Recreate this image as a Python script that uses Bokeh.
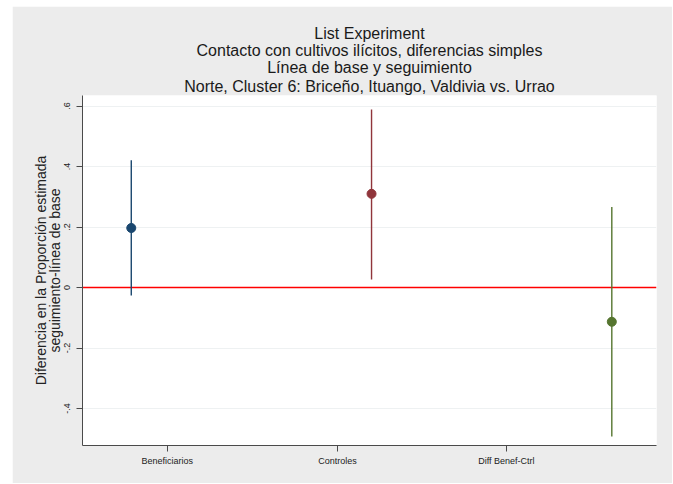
from bokeh.plotting import figure
from bokeh.models import Range1d, FixedTicker, Title, Spacer
from bokeh.layouts import row, column
from bokeh.embed import file_html
from bokeh.resources import INLINE

# ---- data ----
categories = ["Beneficiarios", "Controles", "Diff Benef-Ctrl"]
x_pos = [1, 2, 3]
estimates = [0.197, 0.310, -0.113]
ci_low = [-0.026, 0.027, -0.492]
ci_high = [0.421, 0.589, 0.266]
colors = ["#1a476f", "#90353b", "#55752f"]
cat_ticks = [1.15, 1.858, 2.561]
y_ticks = [-0.4, -0.2, 0.0, 0.2, 0.4, 0.6]
y_tick_labels = ["-.4", "-.2", "0", ".2", ".4", ".6"]
title_lines = [
    "List Experiment",
    "Contacto con cultivos ilícitos, diferencias simples",
    "Línea de base y seguimiento",
    "Norte, Cluster 6: Briceño, Ituango, Valdivia vs. Urrao",
]
y_label = "Diferencia en la Proporción estimada\nseguimiento-línea de base"

FONT = "Liberation Sans"
BG = "#ececec"

Y0, Y1 = -0.522, 0.635
X0, X1 = 0.797, 3.186

p = figure(width=660, height=477, output_backend="svg", toolbar_location=None,
           x_range=Range1d(X0, X1), y_range=Range1d(Y0, Y1),
           min_border_left=70, min_border_right=16, min_border_top=89, min_border_bottom=38)
p.background_fill_color = "white"
p.border_fill_color = BG
p.outline_line_color = None
p.title = None

# grid
p.xgrid.grid_line_color = None
p.ygrid.grid_line_color = "#eef1f2"
p.ygrid.grid_line_width = 1
p.ygrid.ticker = FixedTicker(ticks=y_ticks)

# zero line
p.line(x=[X0, X1], y=[0, 0], line_color="#ff0000", line_width=1.5)

# CIs and points
p.segment(x0=x_pos, y0=ci_low, x1=x_pos, y1=ci_high, line_color=colors, line_width=1.4)
p.scatter(x=x_pos, y=estimates, size=9, fill_color=colors, line_color=colors, marker="circle")

# axes
AX = "#4a4a4a"
p.xaxis.ticker = FixedTicker(ticks=cat_ticks)
p.xaxis.major_label_overrides = {t: c for t, c in zip(cat_ticks, categories)}
p.yaxis.ticker = FixedTicker(ticks=y_ticks)
p.yaxis.major_label_overrides = {t: l for t, l in zip(y_ticks, y_tick_labels)}
p.yaxis.major_label_orientation = "vertical"
for ax in (p.xaxis, p.yaxis):
    ax.axis_line_color = AX
    ax.axis_line_width = 1
    ax.major_tick_line_color = AX
    ax.minor_tick_line_color = None
    ax.major_tick_out = 6
    ax.major_tick_in = 0
    ax.major_label_text_font = FONT
    ax.major_label_text_font_size = "9px"
    ax.major_label_text_color = "#222222"
p.xaxis.major_label_standoff = 4
p.yaxis.major_label_standoff = 6
p.yaxis.axis_label = y_label
p.yaxis.axis_label_text_font = FONT
p.yaxis.axis_label_text_font_size = "14px"
p.yaxis.axis_label_text_font_style = "normal"
p.yaxis.axis_label_text_color = "#222222"
p.yaxis.axis_label_text_line_height = 0.85
p.yaxis.axis_label_standoff = -1

# titles: nearest to the frame first
for i, line in enumerate(reversed(title_lines)):
    p.add_layout(Title(text=line, align="center", standoff=(2 if i == 0 else -2),
                       text_font=FONT, text_font_size="16px", text_font_style="normal",
                       text_color="#1a1a1a"), "above")

page = column(Spacer(height=6, width=660), row(Spacer(width=12, height=477), p, spacing=0), spacing=0)

open("out.html", "w").write(file_html(page, INLINE))
